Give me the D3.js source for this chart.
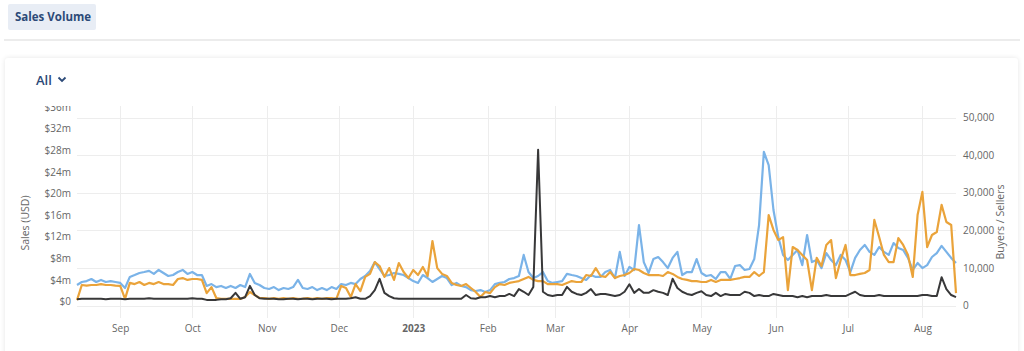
<!DOCTYPE html>
<html>
<head>
<meta charset="utf-8">
<script src="https://cdn.jsdelivr.net/npm/d3@7"></script>
<style>
  html, body { margin: 0; padding: 0; background: #fff; width: 1024px; height: 351px; overflow: hidden; font-family: "Open Sans", sans-serif; }
  .tab { position: absolute; left: 8px; top: 4px; width: 88px; height: 26px; background: #e8edf5; border-radius: 2px; color: #2c4a78; font-weight: 700; font-size: 11.5px; line-height: 26px; padding-left: 7px; box-sizing: border-box; white-space: nowrap; }
  .divider { position: absolute; left: 4px; right: 4px; top: 39px; height: 2px; background: #ececec; }
  .card { position: absolute; left: 5px; top: 58px; width: 1013px; height: 320px; background: #fff; box-shadow: 0 0 5px rgba(0,0,0,0.10); border-radius: 3px; }
  .filter { position: absolute; left: 36px; top: 71px; color: #2c4a78; font-size: 13px; font-weight: 600; }
  #chart { position: absolute; left: 0; top: 0; }
</style>
</head>
<body>
<div class="tab">Sales Volume</div>
<div class="divider"></div>
<div class="card"></div>
<div class="filter">All</div>
<svg id="chart"></svg>
<script>
// sampled every 2 days starting 14 Aug 2022
const startDay = '2022-08-14';
const stepDays = 2;

const monthTicks = ['2022-09-01', '2022-10-01', '2022-11-01', '2022-12-01', '2023-01-01', '2023-02-01',
  '2023-03-01', '2023-04-01', '2023-05-01', '2023-06-01', '2023-07-01', '2023-08-01'];
const salesTicks = [0, 4, 8, 12, 16, 20, 24, 28, 32, 36];          // $m
const countTicks = [0, 10000, 20000, 30000, 40000, 50000];

// Buyers (blue, right axis)
const buyers = [
  5450, 6250, 6500, 7050, 6250, 6800, 6250, 6500, 6250, 6000,
  4650, 7600, 8100, 8650, 8900, 9200, 8400, 9450, 8650, 7850,
  8100, 8900, 9450, 8400, 8900, 8100, 8100, 5200, 5700, 4900,
  5200, 4650, 5200, 4650, 5450, 4900, 8400, 6000, 5450, 4650,
  4400, 4900, 4100, 4650, 4400, 4900, 6800, 4650, 4400, 4900,
  4100, 4650, 4100, 4900, 4400, 5700, 5450, 6000, 5700, 7050,
  7850, 9200, 11550, 9700, 7850, 8100, 8650, 8400, 8100, 7300,
  6500, 6000, 8100, 7300, 6250, 7050, 7850, 7300, 5450, 6000,
  5200, 4900, 4100, 3850, 4100, 3600, 4100, 5700, 6000, 6250,
  7050, 7300, 7850, 13450, 8900, 7300, 7850, 8900, 6500, 6000,
  6250, 6500, 8400, 8100, 7850, 7300, 6800, 8100, 7600, 7600,
  8900, 9450, 7300, 14250, 7850, 10250, 9450, 21400, 11550, 8650,
  12350, 12900, 11550, 9950, 12650, 14250, 8100, 8900, 8900, 12350,
  8650, 7850, 8100, 7050, 8900, 8900, 7050, 10500, 10750, 9450,
  9700, 12350, 21400, 40850, 37350, 25400, 18200, 13450, 12100, 13450,
  14750, 10750, 18750, 11550, 12100, 9950, 13950, 12100, 10750, 13450,
  12100, 8900, 12650, 14750, 16100, 14250, 13450, 15550, 14250, 13450,
  16600, 15300, 14750, 12650, 9450, 11300, 9950, 10750, 12900, 13950,
  15850, 14250, 12650, 11300
];

// Sellers (orange, right axis)
const sellers = [
  1450, 5450, 5300, 5450, 5450, 5700, 5450, 5450, 5300, 5200,
  1750, 6000, 5700, 6250, 5450, 6000, 5700, 6250, 5700, 5700,
  5450, 7050, 7300, 6800, 7050, 7050, 6800, 3300, 4900, 2000,
  1750, 1750, 1750, 1750, 1750, 2250, 3600, 2800, 2000, 2000,
  1750, 2000, 1750, 2000, 1750, 2000, 1750, 1850, 2000, 1750,
  2000, 1750, 2000, 2000, 1750, 5200, 4650, 2250, 5700, 3850,
  7600, 8400, 11550, 10500, 7600, 9950, 6800, 11300, 8900, 7300,
  9450, 8100, 10250, 7850, 17150, 9950, 8400, 7850, 6000, 5450,
  5200, 5700, 4650, 3600, 2250, 3600, 3300, 4900, 5700, 5450,
  6000, 6250, 6500, 7050, 7600, 6800, 6500, 6500, 5700, 5700,
  5700, 5450, 6000, 6500, 6250, 6250, 8100, 7850, 9950, 7850,
  7600, 8900, 7300, 7850, 8100, 8650, 9700, 9450, 8650, 8100,
  8100, 8100, 7850, 8900, 8400, 7600, 7050, 6800, 6500, 6500,
  6250, 6250, 6800, 6250, 6800, 6800, 6800, 7050, 7300, 7600,
  7600, 8900, 7850, 8900, 24050, 20100, 17400, 18200, 4100, 15550,
  14750, 13450, 12100, 4100, 12650, 10500, 16100, 17400, 7300, 12100,
  16100, 8100, 8100, 8400, 8650, 9450, 22750, 18200, 13450, 11550,
  11550, 17950, 16100, 13450, 7600, 24050, 30200, 15550, 18750, 19550,
  26750, 22200, 21400, 3300
];

// Sales in USD millions (black, left axis)
const salesUsd = [
  0.4, 0.5, 0.5, 0.5, 0.5, 0.5, 0.4, 0.5, 0.5, 0.5,
  0.4, 0.5, 0.5, 0.5, 0.5, 0.6, 0.5, 0.5, 0.5, 0.5,
  0.5, 0.5, 0.5, 0.5, 0.6, 0.5, 0.5, 0.3, 0.3, 0.3,
  0.4, 0.4, 0.6, 1.6, 0.5, 0.8, 2.9, 1.2, 0.6, 0.5,
  0.5, 0.5, 0.4, 0.4, 0.5, 0.5, 0.4, 0.5, 0.5, 0.4,
  0.5, 0.5, 0.5, 0.4, 0.5, 0.5, 0.5, 0.6, 0.8, 0.5,
  0.5, 1.0, 2.1, 4.2, 1.6, 1.0, 0.6, 0.5, 0.5, 0.5,
  0.5, 0.5, 0.5, 0.5, 0.5, 0.5, 0.5, 0.5, 0.5, 0.5,
  0.5, 1.2, 0.6, 0.5, 0.8, 0.8, 1.0, 0.8, 1.0, 1.0,
  1.4, 1.0, 2.3, 1.8, 1.2, 2.7, 28.1, 1.8, 1.2, 1.0,
  1.2, 1.2, 2.7, 1.8, 1.4, 1.2, 1.6, 2.3, 1.2, 1.4,
  1.4, 1.2, 1.0, 1.2, 1.8, 3.2, 1.6, 2.3, 1.6, 1.6,
  2.1, 1.8, 1.6, 1.2, 4.2, 2.5, 1.8, 1.4, 1.2, 1.6,
  1.9, 1.2, 1.0, 1.6, 1.0, 1.4, 1.2, 1.2, 1.2, 1.8,
  1.6, 1.0, 1.2, 1.0, 1.0, 1.4, 1.2, 1.0, 1.0, 1.0,
  0.8, 1.0, 0.8, 1.0, 1.0, 1.0, 1.2, 1.0, 1.0, 1.0,
  1.0, 1.4, 1.8, 1.2, 1.0, 1.0, 1.0, 1.2, 1.0, 1.0,
  1.0, 1.0, 1.0, 1.0, 1.0, 1.0, 1.2, 1.2, 1.0, 1.0,
  4.5, 2.3, 1.2, 0.8
];

const W = 1024, H = 351;
const plot = { left: 77, right: 956, top: 106, bottom: 318 };
const colors = { buyers: '#7ab3e8', sellers: '#eaa33a', sales: '#383839' };
const parse = d3.timeParse('%Y-%m-%d');
const start = parse(startDay);
const dates = buyers.map((_, i) => d3.timeDay.offset(start, i * stepDays));

const svg = d3.select('#chart').attr('width', W).attr('height', H);

// filter chevron next to "All"
svg.append('path')
  .attr('d', 'M58.5,77.5 L62,81 L65.5,77.5')
  .attr('fill', 'none')
  .attr('stroke', '#2c4a78')
  .attr('stroke-width', 1.8);

svg.append('clipPath').attr('id', 'clip')
  .append('rect').attr('x', 0).attr('y', plot.top).attr('width', W).attr('height', H - plot.top);

const g = svg.append('g').attr('clip-path', 'url(#clip)');

const x = d3.scaleTime()
  .domain([start, dates[dates.length - 1]])
  .range([plot.left, plot.right]);

const yLeft = d3.scaleLinear().domain([0, 36]).range([301.5, 107.1]);
const yRight = d3.scaleLinear().domain([0, 50000]).range([305.5, 117.5]);

// Grid
g.append('g')
  .selectAll('line.h')
  .data(countTicks)
  .join('line')
  .attr('x1', plot.left).attr('x2', plot.right)
  .attr('y1', d => Math.round(yRight(d)) + 0.5).attr('y2', d => Math.round(yRight(d)) + 0.5)
  .attr('stroke', '#ededed');

const monthDates = monthTicks.map(parse);
g.append('g')
  .selectAll('line.v')
  .data(monthDates)
  .join('line')
  .attr('x1', d => Math.round(x(d)) + 0.5).attr('x2', d => Math.round(x(d)) + 0.5)
  .attr('y1', plot.top).attr('y2', plot.bottom)
  .attr('stroke', '#ededed');

// Left axis (Sales USD)
const leftAxis = g.append('g')
  .attr('transform', `translate(${plot.left - 6},0)`)
  .call(d3.axisLeft(yLeft).tickValues(salesTicks).tickSize(0).tickPadding(0)
    .tickFormat(d => d === 0 ? '$0' : `$${d}m`));
leftAxis.select('.domain').remove();
leftAxis.selectAll('text')
  .attr('font-family', '"Open Sans", sans-serif')
  .attr('font-size', '10px')
  .attr('fill', '#666');

// Right axis (Buyers / Sellers)
const rightAxis = g.append('g')
  .attr('transform', `translate(${plot.right + 7},0)`)
  .call(d3.axisRight(yRight).tickValues(countTicks).tickSize(0).tickPadding(0)
    .tickFormat(d3.format(',')));
rightAxis.select('.domain').remove();
rightAxis.selectAll('text')
  .attr('font-family', '"Open Sans", sans-serif')
  .attr('font-size', '10px')
  .attr('fill', '#666');

// Bottom axis
const bottomAxis = g.append('g')
  .attr('transform', `translate(0,${plot.bottom + 7})`)
  .call(d3.axisBottom(x).tickValues(monthDates).tickSize(0).tickPadding(0)
    .tickFormat(d => d.getMonth() === 0 ? d3.timeFormat('%Y')(d) : d3.timeFormat('%b')(d)));
bottomAxis.select('.domain').remove();
bottomAxis.selectAll('text')
  .attr('font-family', '"Open Sans", sans-serif')
  .attr('font-size', '10px')
  .attr('fill', '#666')
  .attr('font-weight', d => d.getMonth() === 0 ? 700 : 400);

// Axis titles
svg.append('text')
  .attr('transform', 'translate(29,223) rotate(-90)')
  .attr('text-anchor', 'middle')
  .attr('font-family', '"Open Sans", sans-serif')
  .attr('font-size', '10.5px')
  .attr('fill', '#666')
  .text('Sales (USD)');

svg.append('text')
  .attr('transform', 'translate(1004,222) rotate(-90)')
  .attr('text-anchor', 'middle')
  .attr('font-family', '"Open Sans", sans-serif')
  .attr('font-size', '10.5px')
  .attr('fill', '#666')
  .text('Buyers / Sellers');

// Lines
const series = [
  { name: 'Buyers', values: buyers, y: yRight, color: colors.buyers, width: 2.2 },
  { name: 'Sellers', values: sellers, y: yRight, color: colors.sellers, width: 2.2 },
  { name: 'Sales (USD)', values: salesUsd, y: yLeft, color: colors.sales, width: 2 }
];

series.forEach(s => {
  const line = d3.line()
    .x((d, i) => x(dates[i]))
    .y(d => s.y(d));
  g.append('path')
    .datum(s.values)
    .attr('fill', 'none')
    .attr('stroke', s.color)
    .attr('stroke-width', s.width)
    .attr('stroke-linejoin', 'round')
    .attr('d', line);
});
</script>
</body>
</html>
